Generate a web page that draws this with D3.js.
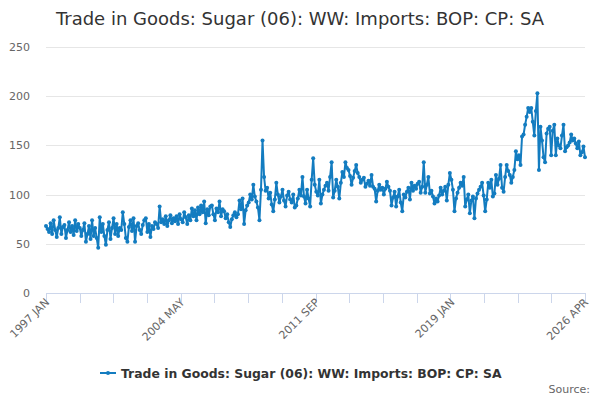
<!DOCTYPE html>
<html><head><meta charset="utf-8">
<script src="https://cdn.jsdelivr.net/npm/d3@7"></script>
<style>body{margin:0;background:#fff}svg{font-family:"DejaVu Sans",sans-serif}</style>
</head><body>
<svg id="c" width="600" height="400"></svg>
<script>
const title = "Trade in Goods: Sugar (06): WW: Imports: BOP: CP: SA";
const seriesName = "Trade in Goods: Sugar (06): WW: Imports: BOP: CP: SA";
const startYear = 1997;
const monthNames = ["JAN","FEB","MAR","APR","MAY","JUN","JUL","AUG","SEP","OCT","NOV","DEC"];
const values = [
 68,65,62,71,60,74,64,57,66,77,60,67,
 69,56,64,72,62,68,59,74,63,70,66,58,
 64,71,52,60,68,55,74,58,66,56,46,77,
 62,70,58,49,64,72,55,66,76,60,70,58,
 66,64,82,70,56,52,67,74,63,76,52,68,
 71,64,60,69,74,76,62,70,57,68,65,72,
 70,66,88,72,75,70,78,68,74,79,71,76,
 73,78,70,80,75,72,82,77,70,79,74,86,
 78,84,74,87,80,89,82,93,71,85,79,88,
 89,80,74,86,82,93,78,85,83,76,80,72,
 67,75,79,82,77,80,94,85,96,70,84,89,
 92,100,95,110,98,93,87,74,105,155,118,104,
 107,96,102,90,83,95,112,100,92,98,105,94,
 88,99,103,95,92,100,87,89,96,105,99,118,
 98,91,105,96,88,115,137,110,103,99,115,91,
 100,105,109,112,104,118,133,97,104,115,108,96,
 112,123,118,133,127,125,119,110,117,124,130,122,
 118,112,115,117,108,111,114,109,120,108,106,93,
 104,110,105,107,100,106,113,108,104,89,97,103,
 88,98,105,92,83,100,97,103,107,95,112,104,
 109,106,111,113,102,108,133,102,110,118,101,104,
 98,91,96,93,99,107,100,104,108,94,110,122,
 115,105,83,96,102,107,112,109,118,88,95,100,
 81,94,98,76,96,101,105,108,112,99,83,95,
 112,107,115,98,101,120,110,116,130,107,103,118,
 130,124,120,112,118,125,144,136,140,130,159,161,
 171,179,188,184,188,174,160,185,203,125,169,155,
 138,133,162,167,169,140,165,171,140,157,150,147,
 160,171,144,148,150,153,161,155,157,152,147,154,
 140,143,149,138
];
const categories = values.map((v,i)=> (startYear+Math.floor(i/12)) + " " + monthNames[i%12]);
const yTicks = [0,50,100,150,200,250];
const labelCats = ["1997 JAN","2004 MAY","2011 SEP","2019 JAN","2026 APR"];
const color = "#137cc0";

const svg = d3.select("#c");
const L=46, R=585, T=47, B=293;
const x = d3.scaleLinear().domain([0, values.length-1]).range([L,R]);
const y = d3.scaleLinear().domain([0,250]).range([B,T]);

svg.append("text").attr("x",300).attr("y",25).attr("text-anchor","middle")
  .attr("font-size",18).attr("fill","#333").text(title);

// grid
const g = svg.append("g");
g.selectAll("line.grid").data(yTicks).join("line")
  .attr("x1",L).attr("x2",R).attr("y1",d=>Math.round(y(d))+0.5).attr("y2",d=>Math.round(y(d))+0.5)
  .attr("stroke","#e6e6e6");
g.selectAll("text.yl").data(yTicks).join("text")
  .attr("x",30).attr("y",d=>y(d)+4).attr("text-anchor","end")
  .attr("font-size",11).attr("fill","#666").text(d=>d);

// x axis
svg.append("line").attr("x1",L).attr("x2",R).attr("y1",B+0.5).attr("y2",B+0.5).attr("stroke","#ccd6eb");
const nT = 16;
const tickIdx = d3.range(nT+1).map(k=>k*(values.length-1)/nT);
svg.selectAll("line.tk").data(tickIdx).join("line")
  .attr("x1",d=>Math.round(x(d))+0.5).attr("x2",d=>Math.round(x(d))+0.5)
  .attr("y1",B).attr("y2",B+10).attr("stroke","#ccd6eb");
svg.selectAll("text.xl").data(labelCats).join("text")
  .attr("transform",d=>{const i=categories.indexOf(d);return `translate(${x(i)+4},${B+10}) rotate(-45)`;})
  .attr("text-anchor","end").attr("font-size",11).attr("fill","#666").text(d=>d);

// line
const line = d3.line().x((d,i)=>x(i)).y(d=>y(d));
svg.append("path").datum(values).attr("d",line).attr("fill","none")
  .attr("stroke",color).attr("stroke-width",2).attr("stroke-linejoin","round");
svg.append("g").selectAll("circle").data(values).join("circle")
  .attr("cx",(d,i)=>x(i)).attr("cy",d=>y(d)).attr("r",2).attr("fill",color);

// legend
const lg = svg.append("g");
lg.append("line").attr("x1",100).attr("x2",116).attr("y1",373).attr("y2",373).attr("stroke",color).attr("stroke-width",2);
lg.append("circle").attr("cx",108).attr("cy",373).attr("r",2).attr("fill",color);
lg.append("text").attr("x",121).attr("y",377.5).attr("font-size",12.4).attr("font-weight","bold").attr("fill","#333").text(seriesName);

svg.append("text").attr("x",590).attr("y",393).attr("text-anchor","end")
  .attr("font-size",11).attr("fill","#666").text("Source:");
</script>
</body></html>
